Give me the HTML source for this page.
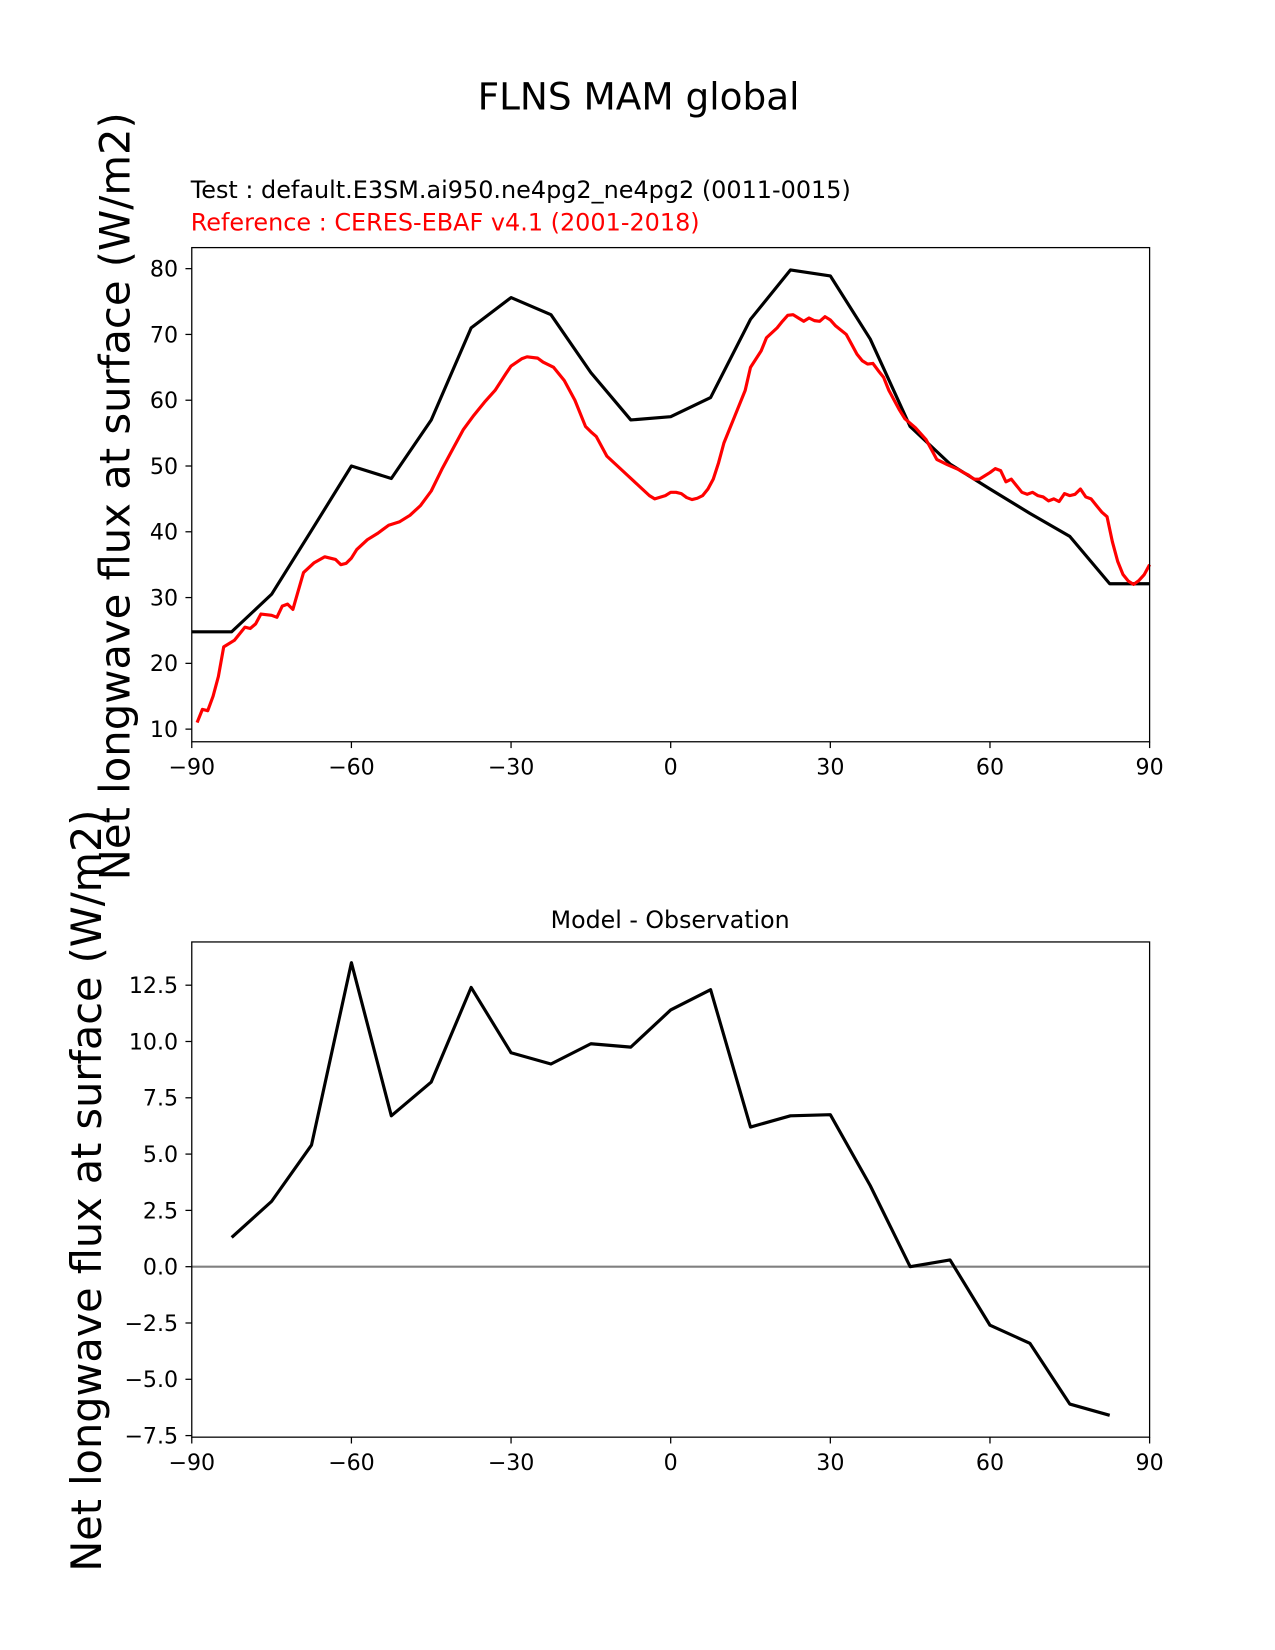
<!DOCTYPE html>
<html><head><meta charset="utf-8"><style>
body{margin:0;background:#fff}
svg{display:block;font-family:"DejaVu Sans","Liberation Sans",sans-serif}
</style></head><body>
<svg id="fig" width="1275" height="1650" viewBox="0 0 1210 1566" preserveAspectRatio="none">
<text x="606" y="104" font-size="35.5" text-anchor="middle">FLNS MAM global</text>
<text x="181" y="188" font-size="22.7">Test : default.E3SM.ai950.ne4pg2_ne4pg2 (0011-0015)</text>
<text x="181" y="219" font-size="22.7" fill="#ff0000">Reference : CERES-EBAF v4.1 (2001-2018)</text>
<text x="636" y="881" font-size="22.5" text-anchor="middle">Model - Observation</text>
<text transform="translate(123,471) rotate(-90)" font-size="39.6" text-anchor="middle">Net longwave flux at surface (W/m2)</text>
<text transform="translate(96,1130) rotate(-90)" font-size="39.3" text-anchor="middle">Net longwave flux at surface (W/m2)</text>
<g id="top"></g>
<g id="bot"></g>
</svg>
<script>
const xTicks=[-90,-60,-30,0,30,60,90];
const topYTicks=[10,20,30,40,50,60,70,80];
const botYTicks=[-7.5,-5,-2.5,0,2.5,5,7.5,10,12.5];
const botYTickLabels=["\u22127.5","\u22125.0","\u22122.5","0.0","2.5","5.0","7.5","10.0","12.5"];
const testLat=[-90,-82.5,-75,-67.5,-60,-52.5,-45,-37.5,-30,-22.5,-15,-7.5,0,7.5,15,22.5,30,37.5,45,52.5,60,67.5,75,82.5,90];
const testVal=[24.8,24.8,30.5,40.2,50,48.1,57,71,75.6,73,64.2,57,57.5,60.4,72.3,79.8,78.9,69.3,56,50.3,46.5,42.8,39.3,32.1,32.1];
const refLat=[-89,-88,-87,-86,-85,-84,-82,-80,-79,-78,-77,-75,-74,-73,-72,-71,-70,-69,-67,-65,-63,-62,-61,-60,-59,-57,-55,-53,-51,-49,-47,-45,-43,-41,-39,-37,-35,-33,-31,-30,-28,-27,-25,-24,-22,-20,-18,-16,-15,-14,-12,-10,-8,-6,-4,-3,-1,0,1,2,3,4,5,6,7,8,9,10,12,14,15,17,18,20,21,22,23,24,25,26,27,28,29,30,31,33,34,35,36,37,38,39,40,41,42,43,44,46,48,49,50,52,54,55,56,57,58,59,60,61,62,63,64,65,66,67,68,69,70,71,72,73,74,75,76,77,78,79,80,81,82,83,84,85,86,87,88,89,90];
const refVal=[11,13,12.8,15,18,22.5,23.5,25.5,25.3,26,27.5,27.3,27,28.7,29,28.2,31,33.8,35.3,36.2,35.8,35,35.2,36,37.3,38.8,39.8,41,41.5,42.5,44,46.2,49.5,52.5,55.5,57.7,59.7,61.5,64,65.2,66.3,66.6,66.4,65.8,65,63,60,56,55.2,54.5,51.5,50,48.5,47,45.5,45,45.5,46,46,45.8,45.2,44.9,45.1,45.5,46.5,48,50.5,53.5,57.5,61.5,65,67.5,69.5,71,72,72.9,73,72.5,72,72.5,72.1,72,72.7,72.2,71.3,70,68.5,67,66,65.5,65.6,64.5,63.5,61.5,60,58.5,57.2,55.8,54,52.5,51,50.2,49.5,49,48.6,48,48,48.5,49,49.6,49.3,47.6,48,47,46,45.7,46,45.5,45.3,44.7,45,44.6,45.8,45.5,45.7,46.5,45.3,45,44,43,42.3,38.5,35.5,33.5,32.5,32,32.6,33.5,35];
const diffLat=[-82.5,-75,-67.5,-60,-52.5,-45,-37.5,-30,-22.5,-15,-7.5,0,7.5,15,22.5,30,37.5,45,52.5,60,67.5,75,82.5];
const diffVal=[1.3,2.9,5.4,13.5,6.7,8.2,12.4,9.5,9.0,9.9,9.75,11.4,12.3,6.2,6.7,6.75,3.6,0.0,0.3,-2.6,-3.4,-6.1,-6.6];
const NS="http://www.w3.org/2000/svg";
function mk(p,t,a){const e=document.createElementNS(NS,t);for(const k in a)e.setAttribute(k,a[k]);p.appendChild(e);return e;}
const X0=182,X1=1091;
const sx=v=>X0+(v+90)/180*(X1-X0);
function panel(g,top,bot,ymin,ymax,yt,ytl){
  const sy=v=>bot-(v-ymin)/(ymax-ymin)*(bot-top);
  xTicks.forEach(t=>{
    const l=mk(g,'line',{x1:sx(t),x2:sx(t),y1:bot,y2:bot+6,stroke:'#000','stroke-width':1.2});
    
    
    const tx=mk(g,'text',{x:sx(t),y:bot+31,'font-size':21,'text-anchor':'middle'});
    tx.textContent=t<0?'\u2212'+(-t):String(t);
    
    
  });
  yt.forEach((t,i)=>{
    const l=mk(g,'line',{x1:X0-6,x2:X0,y1:sy(t),y2:sy(t),stroke:'#000','stroke-width':1.2});
    
    
    const tx=mk(g,'text',{x:X0-13,y:sy(t)+7.5,'font-size':21,'text-anchor':'end'});
    tx.textContent=ytl?ytl[i]:String(t);
    
    
  });
  return sy;
}
function line(g,lat,val,sy,color,name){
  const p=mk(g,'polyline',{points:lat.map((x,i)=>sx(x)+','+sy(val[i])).join(' '),fill:'none',stroke:color,'stroke-width':3,'stroke-linejoin':'round'});
  
  
}
const gt=document.getElementById('top');
const syT=panel(gt,235,704,8.08,83.2,topYTicks,null);
line(gt,testLat,testVal,syT,'#000','test-line');
line(gt,refLat,refVal,syT,'#ff0000','reference-line');
const f1=mk(gt,'rect',{x:X0,y:235,width:X1-X0,height:469,fill:'none',stroke:'#000','stroke-width':1.2});


const gb=document.getElementById('bot');
const syB=panel(gb,894,1364,-7.57,14.42,botYTicks,botYTickLabels);
const z=mk(gb,'line',{x1:X0,x2:X1,y1:syB(0),y2:syB(0),stroke:'#808080','stroke-width':2});


line(gb,diffLat,diffVal,syB,'#000','diff-line');
const f2=mk(gb,'rect',{x:X0,y:894,width:X1-X0,height:470,fill:'none',stroke:'#000','stroke-width':1.2});


</script>
</body></html>
